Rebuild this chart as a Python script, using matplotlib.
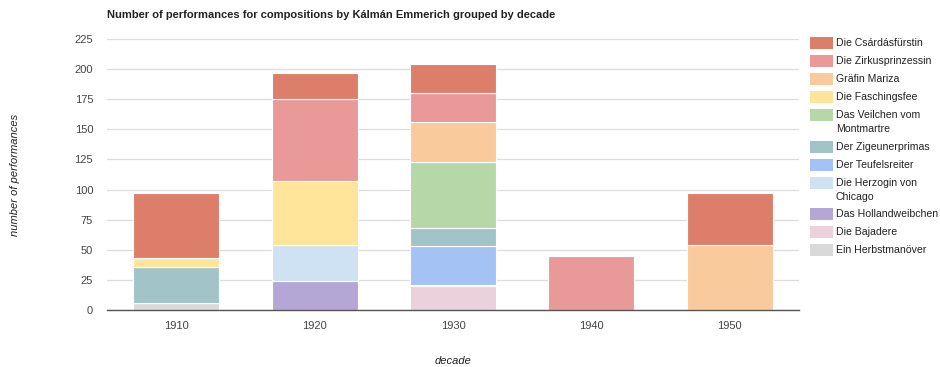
import numpy as np
import matplotlib.pyplot as plt
from matplotlib.patches import Rectangle

plt.rcParams['font.family'] = ['Liberation Sans', 'DejaVu Sans']

decades = ["1910", "1920", "1930", "1940", "1950"]

# series listed bottom to top of the stack
herbstmanoever = [6, 0, 0, 0, 0]
bajadere = [0, 0, 20, 0, 0]
hollandweibchen = [0, 24, 0, 0, 0]
herzogin = [0, 30, 1, 0, 0]
teufelsreiter = [0, 0, 32, 0, 0]
zigeunerprimas = [30, 0, 15, 0, 0]
veilchen = [0, 0, 55, 0, 0]
faschingsfee = [7, 53, 0, 0, 0]
mariza = [0, 0, 33, 0, 54]
zirkusprinzessin = [0, 68, 24, 45, 0]
csardasfuerstin = [54, 22, 24, 0, 43]

series = [
    ("Ein Herbstmanöver", herbstmanoever, "#d9d9d9"),
    ("Die Bajadere", bajadere, "#ead1dc"),
    ("Das Hollandweibchen", hollandweibchen, "#b4a7d6"),
    ("Die Herzogin von\nChicago", herzogin, "#cfe2f3"),
    ("Der Teufelsreiter", teufelsreiter, "#a4c2f4"),
    ("Der Zigeunerprimas", zigeunerprimas, "#a2c4c9"),
    ("Das Veilchen vom\nMontmartre", veilchen, "#b6d7a8"),
    ("Die Faschingsfee", faschingsfee, "#ffe599"),
    ("Gräfin Mariza", mariza, "#f9cb9c"),
    ("Die Zirkusprinzessin", zirkusprinzessin, "#ea9999"),
    ("Die Csárdásfürstin", csardasfuerstin, "#dd7e6b"),
]

W, H = 940, 367
fig = plt.figure(figsize=(W / 100, H / 100), dpi=100)
ax = fig.add_axes([107 / W, 1 - 310 / H, 692 / W, 271 / H])

x = np.arange(len(decades))
bottom = np.zeros(len(decades))
for name, vals, color in series:
    vals = np.array(vals, dtype=float)
    ax.bar(x, vals, 0.62, bottom=bottom, color=color,
           edgecolor="white", linewidth=0.8, label=name, zorder=2)
    bottom += vals

ax.set_xlim(-0.5, len(decades) - 0.5)
ax.set_ylim(0, 225)
ax.set_yticks(np.arange(0, 226, 25))
ax.set_xticks(x)
ax.set_xticklabels(decades)
ax.tick_params(axis="both", length=0, labelsize=8, colors="#444444")
ax.tick_params(axis="y", pad=10)
ax.tick_params(axis="x", pad=8)
ax.grid(axis="y", color="#dddddd", linewidth=0.9, zorder=0)
for s in ["top", "right", "left"]:
    ax.spines[s].set_visible(False)
ax.spines["bottom"].set_color("#555555")
ax.spines["bottom"].set_linewidth(1)
ax.spines["bottom"].set_zorder(3)

fig.text(107 / W, 1 - 15 / H, "Number of performances for compositions by Kálmán Emmerich grouped by decade",
         fontsize=8, fontweight="bold", va="center", ha="left", color="#222222")
fig.text(15 / W, 1 - 175 / H, "number of performances", rotation=90, style="italic",
         fontsize=8, va="center", ha="center", color="#222222")
fig.text(453 / W, 1 - 361 / H, "decade", style="italic",
         fontsize=8, va="center", ha="center", color="#222222")

# legend drawn by hand, top entry first, wrapped labels push rows down
y = 43
for name, vals, color in series[::-1]:
    fig.patches.append(Rectangle((810 / W, 1 - (y + 6) / H), 23 / W, 12 / H,
                                 transform=fig.transFigure, facecolor=color,
                                 edgecolor="none", figure=fig))
    fig.text(836 / W, 1 - (y - 5) / H, name, fontsize=7.6, va="top", ha="left",
             color="#222222", linespacing=1.5)
    y += 18.1 + 13 * name.count("\n")

fig.savefig("out.png", dpi=100)
